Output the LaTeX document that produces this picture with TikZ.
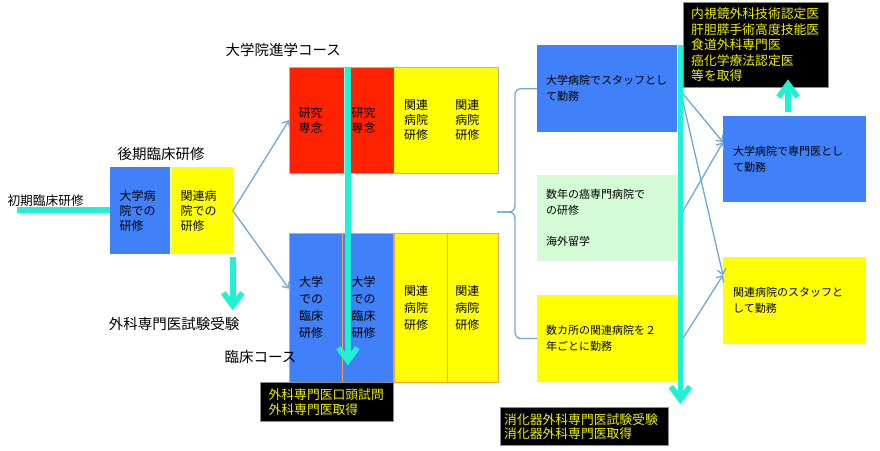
\documentclass[tikz,border=0pt]{standalone}
\usepackage{fontspec}
\setmainfont{Noto Sans CJK JP}
\usetikzlibrary{arrows.meta,positioning,calc}
\definecolor{uniblue}{HTML}{4080F8}
\definecolor{studyred}{HTML}{FF2200}
\definecolor{relyellow}{HTML}{FFFF00}
\definecolor{palegreen}{HTML}{D4FAD6}
\definecolor{aqua}{HTML}{1EF2D2}
\definecolor{linkblue}{HTML}{6EA8DC}
\definecolor{frameorange}{HTML}{F4A050}
\definecolor{noteyellow}{HTML}{F0F000}
\tikzset{
  panel/.style={anchor=north west, inner ysep=0pt, align=left, font=\fontsize{12}{15}\selectfont},
  wide panel/.style={panel, minimum height=87pt, text width=122pt, inner xsep=9pt, font=\fontsize{11}{16}\selectfont},
  note/.style={anchor=north west, fill=black, draw=black!45, text=noteyellow, inner ysep=0pt, align=left, font=\fontsize{12.8}{15.5}\selectfont},
  heading/.style={font=\fontsize{14.5}{17}\selectfont},
  link/.style={draw=linkblue, line width=1.3pt, -{Straight Barb[length=5pt,width=9pt]}},
  bracket/.style={draw=linkblue, line width=1.3pt, rounded corners=6pt},
  flowline/.style={draw=aqua, line width=5.5pt},
  flowarrow/.style={flowline, -{Straight Barb[length=13pt,width=19pt]}}
}

\begin{document}
\begin{tikzpicture}[x=1pt,y=-1pt]
\useasboundingbox (0,0) rectangle (880,450);

% late training
\node[anchor=west, font=\fontsize{12.7}{15}\selectfont] (early) at (4,201) {初期臨床研修};
\node[heading] (late) at (161,154) {後期臨床研修};
\node[panel, fill=uniblue, minimum height=87pt, text width=41pt, inner xsep=9.5pt] (unitrain) at (110,167) {大学病\\院での\\研修};
\node[panel, fill=relyellow, right=0pt of unitrain, minimum height=87pt, text width=42pt, inner xsep=10pt] (reltrain) {関連病\\院での\\研修};
\node[heading] (exam) at (174,324) {外科専門医試験受験};

% graduate school course
\node[heading, anchor=west] (gradcourse) at (222,50) {大学院進学コース};
\node[panel, fill=studyred, minimum height=106pt, text width=36pt, inner xsep=9.5pt] (study1) at (289,67) {研究\\専念};
\node[panel, fill=studyred, right=0pt of study1, minimum height=106pt, text width=35pt, inner xsep=7pt] (study2) {研究\\専念};
\node[panel, fill=relyellow, right=0pt of study2, minimum height=106pt, text width=32pt, inner xsep=10pt] (relA) {関連\\病院\\研修};
\node[panel, fill=relyellow, right=0pt of relA, minimum height=106pt, text width=34pt, inner xsep=9pt] (relB) {関連\\病院\\研修};
\draw[black!30] (study1.north west) rectangle (relB.south east);

% clinical course
\node[panel, fill=uniblue, draw=frameorange, minimum height=149pt, text width=33pt, inner xsep=10pt, font=\fontsize{12}{17}\selectfont] (clin1) at (289,233) {大学\\での\\臨床\\研修};
\node[panel, fill=uniblue, draw=frameorange, right=0pt of clin1, minimum height=149pt, text width=33pt, inner xsep=9pt, font=\fontsize{12}{17}\selectfont] (clin2) {大学\\での\\臨床\\研修};
\node[panel, fill=relyellow, draw=frameorange, right=0pt of clin2, minimum height=149pt, text width=33pt, inner xsep=10pt, font=\fontsize{12}{17}\selectfont] (relC) {関連\\病院\\研修};
\node[panel, fill=relyellow, draw=frameorange, right=0pt of relC, minimum height=149pt, text width=35pt, inner xsep=8pt, font=\fontsize{12}{17}\selectfont] (relD) {関連\\病院\\研修};
\node[heading, anchor=west] (clincourse) at (221,357) {臨床コース};
\node[note, anchor=north east, text width=117pt, inner xsep=8pt, minimum height=39pt] (oralexam) at (clin2.south east) {外科専門医口頭試問\\外科専門医取得};

% after qualification
\node[wide panel, fill=uniblue] (unistaff) at (537,45) {大学病院でスタッフとし\\て勤務};
\node[wide panel, fill=palegreen, below=42pt of unistaff, minimum height=86pt] (abroad) {数年の癌専門病院で\\の研修\\[15pt]海外留学};
\node[wide panel, fill=relyellow, below=34pt of abroad] (rotation) {数カ所の関連病院を２\\年ごとに勤務};
\node[note, text width=160pt, inner xsep=4pt, minimum height=38pt, font=\fontsize{12.8}{14}\selectfont] (gisurgexam) at (500,407) {消化器外科専門医試験受験\\消化器外科専門医取得};

\node[wide panel, fill=uniblue, text width=123pt, inner xsep=10pt, minimum height=86pt] (uniexpert) at (723,116) {大学病院で専門医とし\\て勤務};
\node[wide panel, fill=relyellow, below=54pt of uniexpert, text width=123pt, inner xsep=10pt] (relstaff) {関連病院のスタッフと\\して勤務};
\node[note, text width=129pt, inner xsep=8pt, minimum height=85pt] (certs) at (683,2) {内視鏡外科技術認定医\\肝胆膵手術高度技能医\\食道外科専門医\\癌化学療法認定医\\等を取得};

% connectors
\draw[link] (reltrain.east) -- (study1.west);
\draw[link] (reltrain.east) -- ([yshift=19pt]clin1.west);

\coordinate (bracetip) at (497,212);
\draw[bracket] (unistaff.west) -- ++(-22,0) |- (bracetip);
\draw[bracket] (rotation.west) -- ++(-22,0) |- (bracetip);

\coordinate (expertin) at ([yshift=17pt]uniexpert.west);
\coordinate (relstaffin) at ([yshift=25pt]relstaff.west);
\draw[link] ([xshift=3pt,yshift=-2pt]unistaff.east) -- (expertin);
\draw[link] ([xshift=3pt,yshift=-2pt]unistaff.east) -- (relstaffin);
\draw[link] ([xshift=3pt,yshift=2pt]abroad.east) -- (expertin);
\draw[link] ([xshift=3pt,yshift=-4pt]rotation.east) -- (relstaffin);

% main flow
\coordinate (earlystart) at (17,210);
\draw[flowline] (earlystart) -- (earlystart -| unitrain.west);
\coordinate (examtip) at ($(reltrain.south east)+(0,56)$);
\draw[flowarrow] ([yshift=-3pt]reltrain.south east) -- (examtip);
\draw[flowarrow] ([xshift=3.5pt]study2.north west) -- ([xshift=5.5pt,yshift=17pt]clin2.south west);
\draw[flowarrow] ([xshift=3pt]unistaff.north east) -- ([xshift=3pt,yshift=-22pt]rotation.south east);
\coordinate (certsbase) at (788,112);
\draw[flowarrow] (certsbase) -- ($(certsbase |- certs.south)+(0,-8)$);
\end{tikzpicture}
\end{document}
